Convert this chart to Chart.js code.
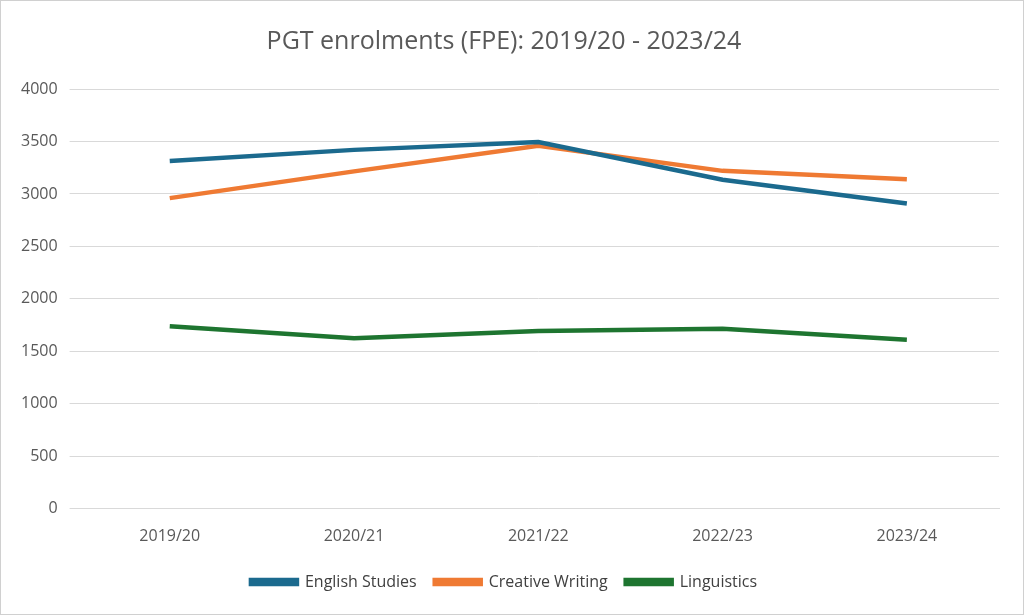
<!DOCTYPE html>
<html><head><meta charset="utf-8">
<script src="https://cdn.jsdelivr.net/npm/chart.js@4"></script>
<style>html,body{margin:0;padding:0;background:#fff}#w{width:1022px;height:613px;border:1px solid #d0d0d0;position:relative}</style>
</head><body><div id="w"><canvas id="c"></canvas></div>
<script>
const categories=["2019/20","2020/21","2021/22","2022/23","2023/24"];
const englishStudies=[3315,3420,3495,3135,2910];
const creativeWriting=[2960,3215,3460,3220,3140];
const linguistics=[1740,1625,1695,1715,1610];
const yTicks=[0,500,1000,1500,2000,2500,3000,3500,4000];
const font="'Open Sans', 'Liberation Sans', sans-serif";
new Chart(document.getElementById('c'),{type:'line',
data:{labels:categories,datasets:[
{label:'English Studies',data:englishStudies,borderColor:'#1B6A8E',backgroundColor:'#1B6A8E'},
{label:'Creative Writing',data:creativeWriting,borderColor:'#EF7A33',backgroundColor:'#EF7A33'},
{label:'Linguistics',data:linguistics,borderColor:'#1E7530',backgroundColor:'#1E7530'}]},
options:{responsive:true,maintainAspectRatio:false,animation:false,
elements:{line:{borderWidth:4.5,tension:0},point:{radius:0}},
layout:{padding:{left:8,right:24,top:18,bottom:14}},
plugins:{title:{display:true,text:'PGT enrolments (FPE): 2019/20 - 2023/24',color:'#595959',font:{family:font,size:25,weight:'normal'},padding:{top:8,bottom:32}},
legend:{position:'bottom',labels:{color:'#404040',font:{family:font,size:16},boxWidth:46,boxHeight:4,padding:18}},tooltip:{enabled:false}},
scales:{x:{offset:true,grid:{display:false},border:{color:'#d9d9d9'},ticks:{color:'#595959',font:{family:font,size:16},padding:10}},
y:{min:0,max:4000,afterBuildTicks:a=>{a.ticks=yTicks.map(v=>({value:v}))},grid:{color:'#d9d9d9'},border:{display:false},ticks:{color:'#595959',font:{family:font,size:16},padding:12,callback:v=>String(v)}}}}});
</script></body></html>
